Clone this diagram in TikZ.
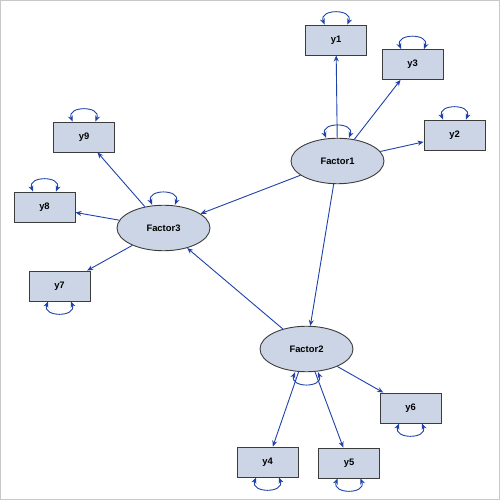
\documentclass[tikz,border=0pt]{standalone}
\usepackage{fontspec}
\setmainfont{Liberation Sans}
\usetikzlibrary{arrows.meta,shapes.geometric}
\definecolor{nodefill}{RGB}{203,213,230}
\definecolor{edgeblue}{RGB}{30,65,170}
\definecolor{outline}{RGB}{60,60,60}
\tikzset{
  obsbox/.style={draw=outline,line width=0.9pt,fill=nodefill,minimum width=61pt,minimum height=30pt,inner sep=0pt,font=\fontsize{9.4}{10}\selectfont\bfseries},
  latent/.style={ellipse,draw=outline,line width=0.9pt,fill=nodefill,minimum width=93pt,minimum height=45.5pt,inner sep=0pt,font=\fontsize{9.4}{10}\selectfont\bfseries},
  path/.style={draw=edgeblue,line width=0.9pt,-{Stealth[length=6pt,width=5pt]}},
  vloop/.style={draw=edgeblue,line width=0.9pt,{Stealth[length=6pt,width=5pt]}-{Stealth[length=6pt,width=5pt]}}
}
\newcommand{\looptop}[1]{\draw[vloop] ([xshift=-11.5pt]#1.north) .. controls +(-6,16) and +(6,16) .. ([xshift=11.5pt]#1.north);}
\newcommand{\loopbot}[1]{\draw[vloop] ([xshift=-11.5pt]#1.south) .. controls +(-6,-16) and +(6,-16) .. ([xshift=11.5pt]#1.south);}
\begin{document}
\begin{tikzpicture}[x=1pt,y=1pt]
\useasboundingbox (0,0) rectangle (500,500);
\draw[draw={rgb,255:red,200;green,200;blue,200},line width=1pt] (0.5,0.5) rectangle (499.5,499.5);
% latent
\node[latent] (F1) at (337.5,339) {Factor1};
\node[latent] (F3) at (163.5,272) {Factor3};
\node[latent] (F2) at (306.5,151) {Factor2};
% observed
\node[obsbox] (y1) at (336,460) {y1};
\node[obsbox] (y3) at (412.5,435.5) {y3};
\node[obsbox] (y2) at (454.5,365) {y2};
\node[obsbox] (y9) at (84,363) {y9};
\node[obsbox] (y8) at (44.5,293) {y8};
\node[obsbox] (y7) at (59.5,214) {y7};
\node[obsbox] (y6) at (410.5,92) {y6};
\node[obsbox] (y4) at (267.5,38) {y4};
\node[obsbox] (y5) at (349,37) {y5};
% paths
\draw[path] (F1) -- (y1);
\draw[path] (F1) -- (y3);
\draw[path] (F1) -- (y2);
\draw[path] (F1) -- (F3);
\draw[path] (F1) -- (F2);
\draw[path] (F2) -- (F3);
\draw[path] (F3) -- (y9);
\draw[path] (F3) -- (y8);
\draw[path] (F3) -- (y7);
\draw[path] (F2) -- (y4);
\draw[path] (F2) -- (y5);
\draw[path] (F2) -- (y6);
% variances
\looptop{y1}
\looptop{y3}
\looptop{y2}
\looptop{y9}
\looptop{y8}
\looptop{F1}
\looptop{F3}
\loopbot{y7}
\loopbot{y6}
\loopbot{y4}
\loopbot{y5}
\loopbot{F2}
\end{tikzpicture}
\end{document}
